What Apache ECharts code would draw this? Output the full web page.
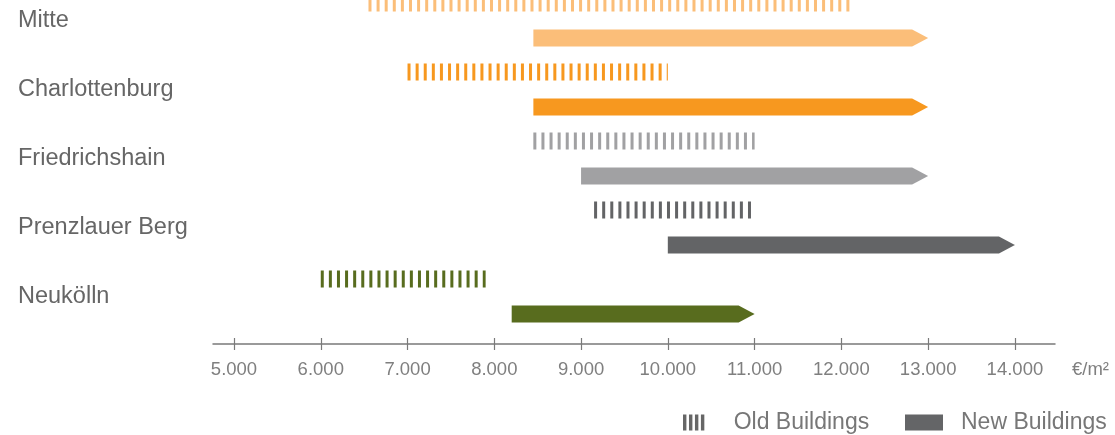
<!DOCTYPE html>
<html>
<head>
<meta charset="utf-8">
<style>
  html, body { margin: 0; padding: 0; background: #fff; }
  #chart { width: 1115px; height: 435px; }
</style>
<script src="https://cdn.jsdelivr.net/npm/echarts@6/dist/echarts.min.js"></script>
</head>
<body>
<div id="chart"></div>
<script>
// Price ranges per district, €/m²
const districts = ['Mitte', 'Charlottenburg', 'Friedrichshain', 'Prenzlauer Berg', 'Neukölln'];
const oldFrom = [6550, 7000, 8450, 9150, 6000];
const oldTo   = [12100, 10000, 11000, 11000, 7900];
const newFrom = [8450, 8450, 9000, 10000, 8200];
const newTo   = [13000, 13000, 13000, 14000, 11000];
const priceTicks = [5000, 6000, 7000, 8000, 9000, 10000, 11000, 12000, 13000, 14000];
const rowTicks = [0, 1, 2, 3, 4];
const districtColors = ['#FBBE79', '#F7981F', '#A1A1A3', '#636466', '#586C1E'];

const FONT = '"Liberation Sans", Helvetica, Arial, sans-serif';
const fmt = v => String(v).replace(/\B(?=(\d{3})+(?!\d))/g, '.');

const oldData = districts.map((d, i) => [i, oldFrom[i], oldTo[i]]);
const newData = districts.map((d, i) => [i, newFrom[i], newTo[i]]);

// Old buildings: striped band drawn as a thick dashed stroke above the row centre
function renderOld(params, api) {
  const row = api.value(0);
  const a = api.coord([api.value(1), row]);
  const b = api.coord([api.value(2), row]);
  const band = api.size([0, 1])[1];
  const y = a[1] - band * 0.254;
  return {
    type: 'line',
    shape: { x1: a[0], y1: y, x2: b[0], y2: y },
    style: {
      stroke: districtColors[row],
      lineWidth: band * 0.245,
      lineDash: [3, 5.1],
      lineCap: 'butt'
    }
  };
}

// New buildings: solid band ending in an arrow head below the row centre
function renderNew(params, api) {
  const row = api.value(0);
  const a = api.coord([api.value(1), row]);
  const b = api.coord([api.value(2), row]);
  const band = api.size([0, 1])[1];
  const y = a[1] + band * 0.254;
  const h = band * 0.245 / 2;
  const head = 16;
  return {
    type: 'polygon',
    shape: {
      points: [
        [a[0], y - h], [b[0] - head, y - h], [b[0], y],
        [b[0] - head, y + h], [a[0], y + h]
      ]
    },
    style: { fill: districtColors[row] }
  };
}

const chart = echarts.init(document.getElementById('chart'), null, { renderer: 'canvas' });

chart.setOption({
  animation: false,
  backgroundColor: '#ffffff',
  grid: { left: 213, right: 60, top: 0, bottom: 104 },
  xAxis: [
    {
      type: 'value',
      min: 4758,
      max: 14462,
      position: 'bottom',
      offset: 13,
      splitLine: { show: false },
      axisLine: { show: true, onZero: false, lineStyle: { color: '#7a7a7a', width: 1.5 } },
      axisTick: { show: true, length: 6, customValues: priceTicks, lineStyle: { color: '#7a7a7a', width: 1.2 } },
      axisLabel: {
        customValues: priceTicks,
        formatter: fmt,
        margin: 16,
        color: '#7f7f7f',
        fontSize: 18.5,
        fontFamily: FONT
      },
      name: '€/m²',
      nameLocation: 'end',
      nameGap: 17,
      nameTextStyle: {
        color: '#7f7f7f',
        fontSize: 18.5,
        fontFamily: FONT,
        align: 'left',
        verticalAlign: 'top',
        padding: [16, 0, 0, 0]
      }
    },
    {
      type: 'value',
      min: 4758,
      max: 14462,
      position: 'bottom',
      offset: 13,
      splitLine: { show: false },
      axisLine: { show: false, onZero: false },
      axisTick: { show: true, inside: true, length: 6, customValues: priceTicks, lineStyle: { color: '#7a7a7a', width: 1.2 } },
      axisLabel: { show: false }
    }
  ],
  // District rows on a value scale so the first row can sit at the top edge
  yAxis: {
    type: 'value',
    inverse: true,
    min: -0.297,
    max: 4.5,
    axisLine: { show: false },
    axisTick: { show: false },
    splitLine: { show: false },
    axisLabel: {
      customValues: rowTicks,
      formatter: v => districts[Math.round(v)],
      align: 'left',
      margin: 195,
      color: '#666666',
      fontSize: 23.5,
      fontFamily: FONT
    }
  },
  legend: [
    {
      selectedMode: false,
      left: 683,
      top: 411,
      padding: 0,
      itemWidth: 70,
      itemHeight: 16,
      textStyle: { color: '#777777', fontSize: 23, fontFamily: FONT },
      data: [{
        name: 'Old Buildings',
        icon: 'path://M0,0h3.2v15h-3.2z M5.6,0h3.2v15h-3.2z M11.2,0h3.2v15h-3.2z M16.8,0h3.2v15h-3.2z',
        itemStyle: { color: '#666666' }
      }]
    },
    {
      selectedMode: false,
      left: 905,
      top: 411,
      padding: 0,
      itemWidth: 64,
      itemHeight: 16,
      textStyle: { color: '#777777', fontSize: 23, fontFamily: FONT },
      data: [{
        name: 'New Buildings',
        icon: 'path://M0,0h38v16h-38z',
        itemStyle: { color: '#646567' }
      }]
    }
  ],
  series: [
    {
      name: 'Old Buildings',
      type: 'custom',
      itemStyle: { color: '#666666' },
      encode: { x: [1, 2], y: 0 },
      renderItem: renderOld,
      data: oldData
    },
    {
      name: 'New Buildings',
      type: 'custom',
      itemStyle: { color: '#646567' },
      encode: { x: [1, 2], y: 0 },
      renderItem: renderNew,
      data: newData
    }
  ]
});
</script>
</body>
</html>
